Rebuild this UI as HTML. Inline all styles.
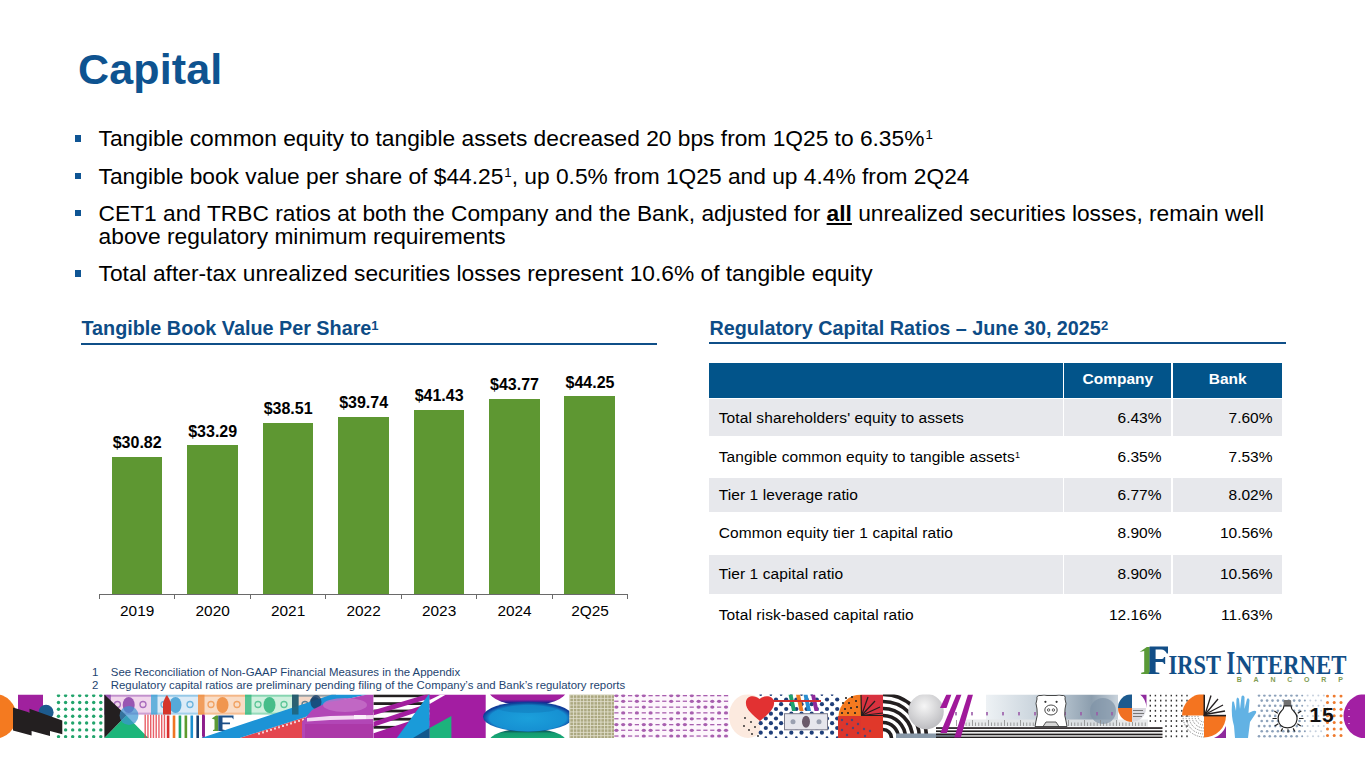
<!DOCTYPE html>
<html><head><meta charset="utf-8">
<style>
*{margin:0;padding:0;box-sizing:border-box}
html,body{width:1365px;height:768px;overflow:hidden;background:#fff}
body{position:relative;font-family:"Liberation Sans",sans-serif;color:#000}
.a{position:absolute;white-space:nowrap}
#title{left:78px;top:48.2px;font-size:43px;line-height:43px;letter-spacing:0.15px;font-weight:bold;color:#0E5390}
.bl{position:absolute;left:98.6px;font-size:22.75px;line-height:23.2px;color:#000}
.bl sup{font-size:0.58em;top:-0.55em;margin-left:1px}
.hd sup{font-size:0.66em;top:-0.4em}
.tdx sup{font-size:0.58em;top:-0.48em}
.sq{position:absolute;left:74.5px;width:6.8px;height:6.9px;background:#0F5594}
sup,.sup{font-size:0.6em;vertical-align:0;position:relative;top:-0.62em;line-height:0}
.hd{position:absolute;font-size:19.8px;line-height:20px;font-weight:bold;color:#0D4C86}
.hl{position:absolute;height:2px;background:#0F4F88}
.bar{position:absolute;background:#5E9732;width:50.8px}
.vl{position:absolute;font-size:16px;line-height:16px;font-weight:bold;width:76px;text-align:center}
.yl{position:absolute;font-size:15.4px;line-height:16px;width:76px;text-align:center;top:603px}
.tk{position:absolute;top:594px;width:1px;height:5px;background:#6A6A6A}
#tbl{position:absolute;left:709px;top:362.5px;border-collapse:separate;border-spacing:0;font-size:15.5px}
#tbl td{padding:0 10.5px;white-space:nowrap}
.th{color:#fff;font-weight:bold;font-size:15.5px;line-height:35.3px;text-align:center}
.td{font-size:15.5px}
.fn{position:absolute;white-space:nowrap;font-size:11.4px;line-height:13px;color:#1D4470}
</style></head><body>
<div id="title" class="a">Capital</div>

<div class="sq" style="top:135px"></div>
<div class="bl" style="top:127.3px">Tangible common equity to tangible assets decreased 20 bps from 1Q25 to 6.35%<sup>1</sup></div>
<div class="sq" style="top:172.5px"></div>
<div class="bl" style="top:164.8px">Tangible book value per share of $44.25<sup>1</sup>, up 0.5% from 1Q25 and up 4.4% from 2Q24</div>
<div class="sq" style="top:209.5px"></div>
<div class="bl" style="top:201.9px;white-space:nowrap">CET1 and TRBC ratios at both the Company and the Bank, adjusted for <b><u>all</u></b> unrealized securities losses, remain well<br>above regulatory minimum requirements</div>
<div class="sq" style="top:270px"></div>
<div class="bl" style="top:262.2px">Total after-tax unrealized securities losses represent 10.6% of tangible equity</div>

<div class="hd" style="left:81.5px;top:318.2px">Tangible Book Value Per Share<sup>1</sup></div>
<div class="hl" style="left:81px;top:342.5px;width:576px"></div>
<div class="hd" style="left:709.5px;top:318.2px">Regulatory Capital Ratios – June 30, 2025<sup>2</sup></div>
<div class="hl" style="left:709px;top:342px;width:576.5px"></div>

<!-- chart -->
<div class="a" style="left:99.5px;top:594px;width:528.5px;height:1px;background:#6A6A6A"></div>
<div class="tk" style="left:99.0px"></div>
<div class="tk" style="left:173.8px"></div>
<div class="tk" style="left:249.8px"></div>
<div class="tk" style="left:324.9px"></div>
<div class="tk" style="left:400.5px"></div>
<div class="tk" style="left:476.1px"></div>
<div class="tk" style="left:551.6px"></div>
<div class="tk" style="left:627.2px"></div>
<div class="bar" style="left:111.7px;top:456.6px;height:137.8px"></div>
<div class="vl" style="left:99.2px;top:435.1px">$30.82</div>
<div class="yl" style="left:99.2px">2019</div>
<div class="bar" style="left:187.1px;top:445.4px;height:149.0px"></div>
<div class="vl" style="left:174.7px;top:423.9px">$33.29</div>
<div class="yl" style="left:174.7px">2020</div>
<div class="bar" style="left:262.6px;top:422.5px;height:171.9px"></div>
<div class="vl" style="left:250.1px;top:401.0px">$38.51</div>
<div class="yl" style="left:250.1px">2021</div>
<div class="bar" style="left:338.1px;top:416.9px;height:177.5px"></div>
<div class="vl" style="left:325.6px;top:395.4px">$39.74</div>
<div class="yl" style="left:325.6px">2022</div>
<div class="bar" style="left:413.5px;top:409.6px;height:184.8px"></div>
<div class="vl" style="left:401.1px;top:388.1px">$41.43</div>
<div class="yl" style="left:401.1px">2023</div>
<div class="bar" style="left:489.0px;top:398.7px;height:195.7px"></div>
<div class="vl" style="left:476.5px;top:377.2px">$43.77</div>
<div class="yl" style="left:476.5px">2024</div>
<div class="bar" style="left:564.4px;top:396.2px;height:198.2px"></div>
<div class="vl" style="left:552.0px;top:374.7px">$44.25</div>
<div class="yl" style="left:552.0px">2Q25</div>

<!-- table -->
<div class="a" style="left:709px;top:362.5px;width:353.5px;height:35.2px;background:#02548A"></div>
<div class="a" style="left:1064.3px;top:362.5px;width:107.2px;height:35.2px;background:#02548A"></div>
<div class="a" style="left:1173.2px;top:362.5px;width:109.1px;height:35.2px;background:#02548A"></div>
<div class="a" style="left:1057.9px;width:120px;top:369.43px;font-size:15.5px;line-height:20px;color:#fff;font-weight:bold;text-align:center">Company</div>
<div class="a" style="left:1167.75px;width:120px;top:369.43px;font-size:15.5px;line-height:20px;color:#fff;font-weight:bold;text-align:center">Bank</div>
<div class="a" style="left:709px;top:398.6px;width:353.5px;height:37.6px;background:#E7E8EC"></div>
<div class="a" style="left:1064.3px;top:398.6px;width:107.2px;height:37.6px;background:#E7E8EC"></div>
<div class="a" style="left:1173.2px;top:398.6px;width:109.1px;height:37.6px;background:#E7E8EC"></div>
<div class="a" style="left:709px;top:478px;width:353.5px;height:34.0px;background:#E7E8EC"></div>
<div class="a" style="left:1064.3px;top:478px;width:107.2px;height:34.0px;background:#E7E8EC"></div>
<div class="a" style="left:1173.2px;top:478px;width:109.1px;height:34.0px;background:#E7E8EC"></div>
<div class="a" style="left:709px;top:554.5px;width:353.5px;height:39.1px;background:#E7E8EC"></div>
<div class="a" style="left:1064.3px;top:554.5px;width:107.2px;height:39.1px;background:#E7E8EC"></div>
<div class="a" style="left:1173.2px;top:554.5px;width:109.1px;height:39.1px;background:#E7E8EC"></div>
<div class="a" style="left:718.7px;letter-spacing:0.1px;top:408.03px;font-size:15.5px;line-height:20px;color:#000;">Total shareholders' equity to assets</div>
<div class="a" style="right:203.5px;top:408.03px;font-size:15.5px;line-height:20px;color:#000;text-align:right">6.43%</div>
<div class="a" style="right:92.5px;top:408.03px;font-size:15.5px;line-height:20px;color:#000;text-align:right">7.60%</div>
<div class="a tdx" style="left:718.7px;letter-spacing:0.1px;top:447.13px;font-size:15.5px;line-height:20px;color:#000;">Tangible common equity to tangible assets<sup>1</sup></div>
<div class="a" style="right:203.5px;top:447.13px;font-size:15.5px;line-height:20px;color:#000;text-align:right">6.35%</div>
<div class="a" style="right:92.5px;top:447.13px;font-size:15.5px;line-height:20px;color:#000;text-align:right">7.53%</div>
<div class="a" style="left:718.7px;letter-spacing:0.1px;top:484.53px;font-size:15.5px;line-height:20px;color:#000;">Tier 1 leverage ratio</div>
<div class="a" style="right:203.5px;top:484.53px;font-size:15.5px;line-height:20px;color:#000;text-align:right">6.77%</div>
<div class="a" style="right:92.5px;top:484.53px;font-size:15.5px;line-height:20px;color:#000;text-align:right">8.02%</div>
<div class="a" style="left:718.7px;letter-spacing:0.1px;top:523.2px;font-size:15.5px;line-height:20px;color:#000;">Common equity tier 1 capital ratio</div>
<div class="a" style="right:203.5px;top:523.2px;font-size:15.5px;line-height:20px;color:#000;text-align:right">8.90%</div>
<div class="a" style="right:92.5px;top:523.2px;font-size:15.5px;line-height:20px;color:#000;text-align:right">10.56%</div>
<div class="a" style="left:718.7px;letter-spacing:0.1px;top:564.3px;font-size:15.5px;line-height:20px;color:#000;">Tier 1 capital ratio</div>
<div class="a" style="right:203.5px;top:564.3px;font-size:15.5px;line-height:20px;color:#000;text-align:right">8.90%</div>
<div class="a" style="right:92.5px;top:564.3px;font-size:15.5px;line-height:20px;color:#000;text-align:right">10.56%</div>
<div class="a" style="left:718.7px;letter-spacing:0.1px;top:605.0px;font-size:15.5px;line-height:20px;color:#000;">Total risk-based capital ratio</div>
<div class="a" style="right:203.5px;top:605.0px;font-size:15.5px;line-height:20px;color:#000;text-align:right">12.16%</div>
<div class="a" style="right:92.5px;top:605.0px;font-size:15.5px;line-height:20px;color:#000;text-align:right">11.63%</div>

<!-- footnotes -->
<div class="fn" style="left:92px;top:666px">1<span style="position:absolute;left:18.8px">See Reconciliation of Non-GAAP Financial Measures in the Appendix</span></div>
<div class="fn" style="left:92px;top:679.2px">2<span style="position:absolute;left:18.8px">Regulatory capital ratios are preliminary pending filing of the Company’s and Bank’s regulatory reports</span></div>

<svg class="a" style="left:0;top:690px" width="1365" height="52" viewBox="0 690 1365 52"><defs><clipPath id="cp"><rect x="0" y="694.4" width="1365" height="43.7"/></clipPath></defs><g clip-path="url(#cp)"><circle cx="-6" cy="716.3" r="22.5" fill="#F47A20"/><rect x="18" y="694.5" width="25" height="18" fill="#A0219E"/><circle cx="46" cy="712.4" r="7.6" fill="#1D5B8E"/><circle cx="58.5" cy="695.6" r="1.7" fill="#22A46C"/><circle cx="58.5" cy="702.5" r="1.7" fill="#22A46C"/><circle cx="58.5" cy="709.3" r="1.7" fill="#22A46C"/><circle cx="58.5" cy="716.2" r="1.7" fill="#22A46C"/><circle cx="58.5" cy="723" r="1.7" fill="#22A46C"/><circle cx="58.5" cy="729.9" r="1.7" fill="#22A46C"/><circle cx="58.5" cy="736.6" r="1.7" fill="#22A46C"/><circle cx="65.6" cy="695.6" r="1.7" fill="#22A46C"/><circle cx="65.6" cy="702.5" r="1.7" fill="#22A46C"/><circle cx="65.6" cy="709.3" r="1.7" fill="#22A46C"/><circle cx="65.6" cy="716.2" r="1.7" fill="#22A46C"/><circle cx="65.6" cy="723" r="1.7" fill="#22A46C"/><circle cx="65.6" cy="729.9" r="1.7" fill="#22A46C"/><circle cx="65.6" cy="736.6" r="1.7" fill="#22A46C"/><circle cx="72.7" cy="695.6" r="1.7" fill="#22A46C"/><circle cx="72.7" cy="702.5" r="1.7" fill="#22A46C"/><circle cx="72.7" cy="709.3" r="1.7" fill="#22A46C"/><circle cx="72.7" cy="716.2" r="1.7" fill="#22A46C"/><circle cx="72.7" cy="723" r="1.7" fill="#22A46C"/><circle cx="72.7" cy="729.9" r="1.7" fill="#22A46C"/><circle cx="72.7" cy="736.6" r="1.7" fill="#22A46C"/><circle cx="79.7" cy="695.6" r="1.7" fill="#22A46C"/><circle cx="79.7" cy="702.5" r="1.7" fill="#22A46C"/><circle cx="79.7" cy="709.3" r="1.7" fill="#22A46C"/><circle cx="79.7" cy="716.2" r="1.7" fill="#22A46C"/><circle cx="79.7" cy="723" r="1.7" fill="#22A46C"/><circle cx="79.7" cy="729.9" r="1.7" fill="#22A46C"/><circle cx="79.7" cy="736.6" r="1.7" fill="#22A46C"/><circle cx="86.6" cy="695.6" r="1.7" fill="#22A46C"/><circle cx="86.6" cy="702.5" r="1.7" fill="#22A46C"/><circle cx="86.6" cy="709.3" r="1.7" fill="#22A46C"/><circle cx="86.6" cy="716.2" r="1.7" fill="#22A46C"/><circle cx="86.6" cy="723" r="1.7" fill="#22A46C"/><circle cx="86.6" cy="729.9" r="1.7" fill="#22A46C"/><circle cx="86.6" cy="736.6" r="1.7" fill="#22A46C"/><circle cx="93.7" cy="695.6" r="1.7" fill="#22A46C"/><circle cx="93.7" cy="702.5" r="1.7" fill="#22A46C"/><circle cx="93.7" cy="709.3" r="1.7" fill="#22A46C"/><circle cx="93.7" cy="716.2" r="1.7" fill="#22A46C"/><circle cx="93.7" cy="723" r="1.7" fill="#22A46C"/><circle cx="93.7" cy="729.9" r="1.7" fill="#22A46C"/><circle cx="93.7" cy="736.6" r="1.7" fill="#22A46C"/><circle cx="100.8" cy="695.6" r="1.7" fill="#22A46C"/><circle cx="100.8" cy="702.5" r="1.7" fill="#22A46C"/><circle cx="100.8" cy="709.3" r="1.7" fill="#22A46C"/><circle cx="100.8" cy="716.2" r="1.7" fill="#22A46C"/><circle cx="100.8" cy="723" r="1.7" fill="#22A46C"/><circle cx="100.8" cy="729.9" r="1.7" fill="#22A46C"/><circle cx="100.8" cy="736.6" r="1.7" fill="#22A46C"/><polygon points="13,707.4 29.5,712.5 29.5,708.8 62.3,720.5 62.3,734.2 50,731 50,736 31.6,731 31.6,735.5 13,730.5" fill="#231F20"/><rect x="104.4" y="694.5" width="46.599999999999994" height="20.100000000000023" fill="#F1D6EC"/><rect x="104.4" y="694.5" width="46.599999999999994" height="2.2" fill="#8A3FA8" opacity="0.45"/><rect x="104.4" y="712.6" width="46.599999999999994" height="2" fill="#8A3FA8" opacity="0.35"/><rect x="104.4" y="694.5" width="6.5" height="20.100000000000023" fill="#8A3FA8" opacity="0.75"/><ellipse cx="128.7" cy="705" rx="6" ry="8" fill="#8A3FA8" opacity="0.85"/><circle cx="117.4" cy="704.5" r="3" fill="none" stroke="#8A3FA8" stroke-width="1.3" opacity="0.7"/><circle cx="143" cy="704.5" r="3" fill="none" stroke="#8A3FA8" stroke-width="1.3" opacity="0.7"/><rect x="151" y="694.5" width="47" height="20.100000000000023" fill="#DCEBF7"/><rect x="151" y="694.5" width="47" height="2.2" fill="#3E9ED3" opacity="0.45"/><rect x="151" y="712.6" width="47" height="2" fill="#3E9ED3" opacity="0.35"/><rect x="151" y="694.5" width="6.5" height="20.100000000000023" fill="#3E9ED3" opacity="0.75"/><ellipse cx="175.5" cy="705" rx="6" ry="8" fill="#3E9ED3" opacity="0.85"/><circle cx="164" cy="704.5" r="3" fill="none" stroke="#3E9ED3" stroke-width="1.3" opacity="0.7"/><circle cx="190" cy="704.5" r="3" fill="none" stroke="#3E9ED3" stroke-width="1.3" opacity="0.7"/><rect x="198" y="694.5" width="47" height="20.100000000000023" fill="#F9DCC6"/><rect x="198" y="694.5" width="47" height="2.2" fill="#EE8A3A" opacity="0.45"/><rect x="198" y="712.6" width="47" height="2" fill="#EE8A3A" opacity="0.35"/><rect x="198" y="694.5" width="6.5" height="20.100000000000023" fill="#EE8A3A" opacity="0.75"/><ellipse cx="222.5" cy="705" rx="6" ry="8" fill="#EE8A3A" opacity="0.85"/><circle cx="211" cy="704.5" r="3" fill="none" stroke="#EE8A3A" stroke-width="1.3" opacity="0.7"/><circle cx="237" cy="704.5" r="3" fill="none" stroke="#EE8A3A" stroke-width="1.3" opacity="0.7"/><rect x="245" y="694.5" width="47" height="20.100000000000023" fill="#CFF0DE"/><rect x="245" y="694.5" width="47" height="2.2" fill="#2DB47A" opacity="0.45"/><rect x="245" y="712.6" width="47" height="2" fill="#2DB47A" opacity="0.35"/><rect x="245" y="694.5" width="6.5" height="20.100000000000023" fill="#2DB47A" opacity="0.75"/><ellipse cx="269.5" cy="705" rx="6" ry="8" fill="#2DB47A" opacity="0.85"/><circle cx="258" cy="704.5" r="3" fill="none" stroke="#2DB47A" stroke-width="1.3" opacity="0.7"/><circle cx="284" cy="704.5" r="3" fill="none" stroke="#2DB47A" stroke-width="1.3" opacity="0.7"/><rect x="292" y="694.5" width="44" height="20.100000000000023" fill="#F4D8C8"/><rect x="292" y="694.5" width="44" height="2.2" fill="#1F5A7A" opacity="0.45"/><rect x="292" y="712.6" width="44" height="2" fill="#1F5A7A" opacity="0.35"/><rect x="292" y="694.5" width="6.5" height="20.100000000000023" fill="#1F5A7A" opacity="0.75"/><ellipse cx="315.0" cy="705" rx="6" ry="8" fill="#1F5A7A" opacity="0.85"/><circle cx="305" cy="704.5" r="3" fill="none" stroke="#1F5A7A" stroke-width="1.3" opacity="0.7"/><circle cx="328" cy="704.5" r="3" fill="none" stroke="#1F5A7A" stroke-width="1.3" opacity="0.7"/><path d="M163,714.6 L163,703 Q165,697 167,695 Q169,698 171,703 L171,714.6 Z" fill="#D5362A"/><polygon points="104.4,694.5 104.4,738.0 126.4,715.5" fill="#231F20"/><polygon points="104.4,738.0 126.4,715.5 148.4,738.0" fill="#1CB57A"/><circle cx="129" cy="715.5" r="9.4" fill="#3C96D2" opacity="0.7"/><rect x="144.5" y="714.6" width="1.4" height="23.399999999999977" fill="#E4434B" opacity="0.85"/><rect x="147.25" y="714.6" width="1.4" height="23.399999999999977" fill="#E4434B" opacity="0.85"/><rect x="150.0" y="714.6" width="1.4" height="23.399999999999977" fill="#E4434B" opacity="0.85"/><rect x="152.75" y="714.6" width="1.4" height="23.399999999999977" fill="#E4434B" opacity="0.85"/><rect x="155.5" y="714.6" width="1.4" height="23.399999999999977" fill="#E4434B" opacity="0.85"/><rect x="158.25" y="714.6" width="1.4" height="23.399999999999977" fill="#E4434B" opacity="0.85"/><rect x="161.0" y="714.6" width="1.4" height="23.399999999999977" fill="#E4434B" opacity="0.85"/><rect x="163.75" y="714.6" width="1.4" height="23.399999999999977" fill="#E4434B" opacity="0.85"/><rect x="166.80" y="715.5" width="2.6" height="22.5" fill="#D9302F"/><rect x="172.72" y="715.5" width="2.6" height="22.5" fill="#EE7623"/><rect x="178.64" y="715.5" width="2.6" height="22.5" fill="#1FA463"/><rect x="184.56" y="715.5" width="2.6" height="22.5" fill="#5E9B2E"/><rect x="190.48" y="715.5" width="2.6" height="22.5" fill="#1B8FCF"/><rect x="196.40" y="715.5" width="2.6" height="22.5" fill="#183D6E"/><rect x="202.32" y="715.5" width="2.6" height="22.5" fill="#8E1E8C"/><path d="M211.7,718.5 L216,715.5 L218.3,715.5 L218.3,731 L213,731 L213,730 L214.5,729.5 L214.5,719.5 Z" fill="#5C9A36"/><path d="M218.3,715.5 L233.5,715.5 L233.5,719.5 L232,717.5 L222.5,717.5 L222.5,722.5 L230,722.5 L230,724.3 L222.5,724.3 L222.5,729.5 L225,730 L225,731 L218.3,731 Z" fill="#1B4F87"/><polygon points="239.6,738.0 305.5,717 305.5,738.0" fill="#E4464F"/><rect x="258.0" y="732.6" width="2" height="2" fill="#F8D0D4"/><rect x="262.0" y="731.4" width="2" height="2" fill="#F8D0D4"/><rect x="266.0" y="730.1" width="2" height="2" fill="#F8D0D4"/><rect x="270.0" y="728.8" width="2" height="2" fill="#F8D0D4"/><rect x="274.0" y="727.5" width="2" height="2" fill="#F8D0D4"/><rect x="278.0" y="726.3" width="2" height="2" fill="#F8D0D4"/><rect x="282.0" y="725.0" width="2" height="2" fill="#F8D0D4"/><rect x="286.0" y="723.7" width="2" height="2" fill="#F8D0D4"/><rect x="290.0" y="722.4" width="2" height="2" fill="#F8D0D4"/><rect x="294.0" y="721.2" width="2" height="2" fill="#F8D0D4"/><rect x="298.0" y="719.9" width="2" height="2" fill="#F8D0D4"/><rect x="302.0" y="718.6" width="2" height="2" fill="#F8D0D4"/><polygon points="201.3,738.0 332,694.5 367,694.5 345,699.5 305.5,717 239.6,738.0" fill="#1C93D6"/><polygon points="292,714.6 318,706 318,694.5 292,694.5" fill="#fff" opacity="0"/><rect x="292" y="694.5" width="6.5" height="20" fill="#1F5A6A" opacity="0.75"/><ellipse cx="316" cy="702" rx="5.5" ry="7" fill="#163F6A" opacity="0.8"/><rect x="202" y="714.6" width="2.6" height="21.4" fill="#8E1E8C"/><polygon points="302,738.0 302,722 312,710 328,702 345,699.5 367,694.5 373.6,694.5 373.6,738.0" fill="#B246B6"/><ellipse cx="345" cy="705" rx="22" ry="7" fill="#C46FC8" opacity="0.8"/><polygon points="307,718 330,716 373.6,715 373.6,719 330,720 307,721.5" fill="#F3D8F2"/><rect x="354" y="715" width="12" height="4" fill="#FBEFFB"/><rect x="305" y="724" width="68" height="14" fill="#A8309F" opacity="0.6"/><rect x="373.6" y="694.5" width="56" height="43.5" fill="#ffffff"/><rect x="373.6" y="694.4" width="56" height="2.8" fill="#231F20"/><rect x="373.6" y="702.2" width="56" height="2.8" fill="#231F20"/><rect x="373.6" y="709.6" width="56" height="2.8" fill="#231F20"/><rect x="373.6" y="717.8" width="56" height="2.8" fill="#231F20"/><rect x="373.6" y="725.9" width="56" height="2.8" fill="#231F20"/><polygon points="373.6,710.3 426,694.4 429.6,694.4 429.6,698.4 373.6,715.3" fill="#A21D9E"/><polygon points="373.6,721.8 429.6,703 429.6,708 373.6,726.8" fill="#A21D9E"/><polygon points="373.6,733.3 429.6,714.5 429.6,738.0 373.6,738.0" fill="#A21D9E"/><polygon points="396.8,738.0 428.6,694.5 429.6,694.5 429.6,738.0" fill="#1A9BD9"/><polygon points="413,738.0 429.6,728 429.6,738.0" fill="#13578C"/><rect x="429.6" y="694.5" width="56.1" height="43.5" fill="#A31DA2"/><polygon points="429.6,700 441,694.5 446,694.5 429.6,704" fill="#ffffff"/><polygon points="429.6,728 451.4,716 451.4,738.0 429.6,738.0" fill="#1DB37C"/><linearGradient id="pg" gradientUnits="userSpaceOnUse" x1="0" x2="0" y1="694.4" y2="705.5"><stop offset="0.45" stop-color="#A3209E"/><stop offset="0.75" stop-color="#1A1E8E"/></linearGradient><linearGradient id="gg" gradientUnits="userSpaceOnUse" x1="0" x2="0" y1="728.5" y2="738"><stop offset="0.2" stop-color="#0A4A55"/><stop offset="0.5" stop-color="#139A70"/><stop offset="1" stop-color="#18A874"/></linearGradient><ellipse cx="527.6" cy="691" rx="38.5" ry="14.5" fill="url(#pg)"/><ellipse cx="527.6" cy="741.5" rx="38.5" ry="13" fill="url(#gg)"/><radialGradient id="eg" cx="0.5" cy="0.55" r="0.5"><stop offset="0" stop-color="#1BA0DB"/><stop offset="0.85" stop-color="#1690D2"/><stop offset="1" stop-color="#103E9A"/></radialGradient><ellipse cx="528" cy="716.7" rx="45" ry="15" fill="url(#eg)"/><ellipse cx="528" cy="708" rx="30" ry="5" fill="#0F6DB0" opacity="0.35"/><rect x="569.5" y="694.5" width="44.5" height="43.5" fill="#ABA880"/><rect x="569.50" y="694.5" width="0.8" height="43.5" fill="#E4E2D0"/><rect x="572.95" y="694.5" width="0.8" height="43.5" fill="#E4E2D0"/><rect x="576.40" y="694.5" width="0.8" height="43.5" fill="#E4E2D0"/><rect x="579.85" y="694.5" width="0.8" height="43.5" fill="#E4E2D0"/><rect x="583.30" y="694.5" width="0.8" height="43.5" fill="#E4E2D0"/><rect x="586.75" y="694.5" width="0.8" height="43.5" fill="#E4E2D0"/><rect x="590.20" y="694.5" width="0.8" height="43.5" fill="#E4E2D0"/><rect x="593.65" y="694.5" width="0.8" height="43.5" fill="#E4E2D0"/><rect x="597.10" y="694.5" width="0.8" height="43.5" fill="#E4E2D0"/><rect x="600.55" y="694.5" width="0.8" height="43.5" fill="#E4E2D0"/><rect x="604.00" y="694.5" width="0.8" height="43.5" fill="#E4E2D0"/><rect x="607.45" y="694.5" width="0.8" height="43.5" fill="#E4E2D0"/><rect x="610.90" y="694.5" width="0.8" height="43.5" fill="#E4E2D0"/><rect x="569.5" y="694.50" width="44.5" height="0.8" fill="#E4E2D0"/><rect x="569.5" y="697.90" width="44.5" height="0.8" fill="#E4E2D0"/><rect x="569.5" y="701.30" width="44.5" height="0.8" fill="#E4E2D0"/><rect x="569.5" y="704.70" width="44.5" height="0.8" fill="#E4E2D0"/><rect x="569.5" y="708.10" width="44.5" height="0.8" fill="#E4E2D0"/><rect x="569.5" y="711.50" width="44.5" height="0.8" fill="#E4E2D0"/><rect x="569.5" y="714.90" width="44.5" height="0.8" fill="#E4E2D0"/><rect x="569.5" y="718.30" width="44.5" height="0.8" fill="#E4E2D0"/><rect x="569.5" y="721.70" width="44.5" height="0.8" fill="#E4E2D0"/><rect x="569.5" y="725.10" width="44.5" height="0.8" fill="#E4E2D0"/><rect x="569.5" y="728.50" width="44.5" height="0.8" fill="#E4E2D0"/><rect x="569.5" y="731.90" width="44.5" height="0.8" fill="#E4E2D0"/><rect x="569.5" y="735.30" width="44.5" height="0.8" fill="#E4E2D0"/><rect x="614" y="694.4" width="115" height="43.6" fill="#FDF6FC"/><ellipse cx="616.4" cy="695.6" rx="2.1" ry="1.6" fill="#9E4FA6" opacity="0.9"/><rect x="614.3" y="700.6" width="4.2" height="1.3" fill="#9E4FA6" opacity="0.9"/><ellipse cx="616.4" cy="707.1" rx="2.1" ry="1.6" fill="#9E4FA6" opacity="0.9"/><rect x="614.3" y="712.2" width="4.2" height="1.3" fill="#9E4FA6" opacity="0.9"/><rect x="614.3" y="718.1" width="4.2" height="1.3" fill="#9E4FA6" opacity="0.9"/><ellipse cx="616.4" cy="724.6" rx="2.1" ry="1.6" fill="#9E4FA6" opacity="0.9"/><ellipse cx="616.4" cy="730.3" rx="2.1" ry="1.6" fill="#9E4FA6" opacity="0.9"/><rect x="614.3" y="735.4" width="4.2" height="1.3" fill="#9E4FA6" opacity="0.9"/><ellipse cx="623.2" cy="695.6" rx="2.1" ry="1.6" fill="#9E4FA6" opacity="0.9"/><ellipse cx="623.2" cy="701.3" rx="2.1" ry="1.6" fill="#9E4FA6" opacity="0.9"/><rect x="621.1" y="706.5" width="4.2" height="1.3" fill="#9E4FA6" opacity="0.9"/><ellipse cx="623.2" cy="712.9" rx="2.1" ry="1.6" fill="#9E4FA6" opacity="0.9"/><rect x="621.1" y="718.1" width="4.2" height="1.3" fill="#9E4FA6" opacity="0.9"/><ellipse cx="623.2" cy="724.6" rx="2.1" ry="1.6" fill="#9E4FA6" opacity="0.9"/><rect x="621.1" y="729.6" width="4.2" height="1.3" fill="#9E4FA6" opacity="0.9"/><ellipse cx="623.2" cy="736.0" rx="2.1" ry="1.6" fill="#9E4FA6" opacity="0.9"/><rect x="628.0" y="695.0" width="4.2" height="1.3" fill="#9E4FA6" opacity="0.9"/><rect x="628.0" y="700.6" width="4.2" height="1.3" fill="#9E4FA6" opacity="0.9"/><rect x="628.0" y="706.5" width="4.2" height="1.3" fill="#9E4FA6" opacity="0.9"/><rect x="628.0" y="712.2" width="4.2" height="1.3" fill="#9E4FA6" opacity="0.9"/><rect x="628.0" y="718.1" width="4.2" height="1.3" fill="#9E4FA6" opacity="0.9"/><ellipse cx="630.1" cy="724.6" rx="2.1" ry="1.6" fill="#9E4FA6" opacity="0.9"/><rect x="628.0" y="729.6" width="4.2" height="1.3" fill="#9E4FA6" opacity="0.9"/><rect x="628.0" y="735.4" width="4.2" height="1.3" fill="#9E4FA6" opacity="0.9"/><ellipse cx="636.9" cy="695.6" rx="2.1" ry="1.6" fill="#9E4FA6" opacity="0.9"/><ellipse cx="636.9" cy="701.3" rx="2.1" ry="1.6" fill="#9E4FA6" opacity="0.9"/><rect x="634.8" y="706.5" width="4.2" height="1.3" fill="#9E4FA6" opacity="0.9"/><ellipse cx="636.9" cy="712.9" rx="2.1" ry="1.6" fill="#9E4FA6" opacity="0.9"/><rect x="634.8" y="718.1" width="4.2" height="1.3" fill="#9E4FA6" opacity="0.9"/><rect x="634.8" y="724.0" width="4.2" height="1.3" fill="#9E4FA6" opacity="0.9"/><rect x="634.8" y="729.6" width="4.2" height="1.3" fill="#9E4FA6" opacity="0.9"/><rect x="634.8" y="735.4" width="4.2" height="1.3" fill="#9E4FA6" opacity="0.9"/><ellipse cx="643.8" cy="695.6" rx="2.1" ry="1.6" fill="#9E4FA6" opacity="0.9"/><rect x="641.7" y="700.6" width="4.2" height="1.3" fill="#9E4FA6" opacity="0.9"/><ellipse cx="643.8" cy="707.1" rx="2.1" ry="1.6" fill="#9E4FA6" opacity="0.9"/><rect x="641.7" y="712.2" width="4.2" height="1.3" fill="#9E4FA6" opacity="0.9"/><rect x="641.7" y="718.1" width="4.2" height="1.3" fill="#9E4FA6" opacity="0.9"/><ellipse cx="643.8" cy="724.6" rx="2.1" ry="1.6" fill="#9E4FA6" opacity="0.9"/><ellipse cx="643.8" cy="730.3" rx="2.1" ry="1.6" fill="#9E4FA6" opacity="0.9"/><ellipse cx="643.8" cy="736.0" rx="2.1" ry="1.6" fill="#9E4FA6" opacity="0.9"/><rect x="648.5" y="695.0" width="4.2" height="1.3" fill="#9E4FA6" opacity="0.9"/><ellipse cx="650.6" cy="701.3" rx="2.1" ry="1.6" fill="#9E4FA6" opacity="0.9"/><rect x="648.5" y="706.5" width="4.2" height="1.3" fill="#9E4FA6" opacity="0.9"/><ellipse cx="650.6" cy="712.9" rx="2.1" ry="1.6" fill="#9E4FA6" opacity="0.9"/><rect x="648.5" y="718.1" width="4.2" height="1.3" fill="#9E4FA6" opacity="0.9"/><ellipse cx="650.6" cy="724.6" rx="2.1" ry="1.6" fill="#9E4FA6" opacity="0.9"/><ellipse cx="650.6" cy="730.3" rx="2.1" ry="1.6" fill="#9E4FA6" opacity="0.9"/><rect x="648.5" y="735.4" width="4.2" height="1.3" fill="#9E4FA6" opacity="0.9"/><rect x="655.4" y="695.0" width="4.2" height="1.3" fill="#9E4FA6" opacity="0.9"/><rect x="655.4" y="700.6" width="4.2" height="1.3" fill="#9E4FA6" opacity="0.9"/><rect x="655.4" y="706.5" width="4.2" height="1.3" fill="#9E4FA6" opacity="0.9"/><rect x="655.4" y="712.2" width="4.2" height="1.3" fill="#9E4FA6" opacity="0.9"/><rect x="655.4" y="718.1" width="4.2" height="1.3" fill="#9E4FA6" opacity="0.9"/><rect x="655.4" y="724.0" width="4.2" height="1.3" fill="#9E4FA6" opacity="0.9"/><rect x="655.4" y="729.6" width="4.2" height="1.3" fill="#9E4FA6" opacity="0.9"/><ellipse cx="657.5" cy="736.0" rx="2.1" ry="1.6" fill="#9E4FA6" opacity="0.9"/><rect x="662.2" y="695.0" width="4.2" height="1.3" fill="#9E4FA6" opacity="0.9"/><rect x="662.2" y="700.6" width="4.2" height="1.3" fill="#9E4FA6" opacity="0.9"/><rect x="662.2" y="706.5" width="4.2" height="1.3" fill="#9E4FA6" opacity="0.9"/><rect x="662.2" y="712.2" width="4.2" height="1.3" fill="#9E4FA6" opacity="0.9"/><rect x="662.2" y="718.1" width="4.2" height="1.3" fill="#9E4FA6" opacity="0.9"/><ellipse cx="664.4" cy="724.6" rx="2.1" ry="1.6" fill="#9E4FA6" opacity="0.9"/><rect x="662.2" y="729.6" width="4.2" height="1.3" fill="#9E4FA6" opacity="0.9"/><rect x="662.2" y="735.4" width="4.2" height="1.3" fill="#9E4FA6" opacity="0.9"/><ellipse cx="671.2" cy="695.6" rx="2.1" ry="1.6" fill="#9E4FA6" opacity="0.9"/><ellipse cx="671.2" cy="701.3" rx="2.1" ry="1.6" fill="#9E4FA6" opacity="0.9"/><rect x="669.1" y="706.5" width="4.2" height="1.3" fill="#9E4FA6" opacity="0.9"/><rect x="669.1" y="712.2" width="4.2" height="1.3" fill="#9E4FA6" opacity="0.9"/><ellipse cx="671.2" cy="718.8" rx="2.1" ry="1.6" fill="#9E4FA6" opacity="0.9"/><rect x="669.1" y="724.0" width="4.2" height="1.3" fill="#9E4FA6" opacity="0.9"/><ellipse cx="671.2" cy="730.3" rx="2.1" ry="1.6" fill="#9E4FA6" opacity="0.9"/><ellipse cx="671.2" cy="736.0" rx="2.1" ry="1.6" fill="#9E4FA6" opacity="0.9"/><ellipse cx="678.0" cy="695.6" rx="2.1" ry="1.6" fill="#9E4FA6" opacity="0.9"/><rect x="675.9" y="700.6" width="4.2" height="1.3" fill="#9E4FA6" opacity="0.9"/><rect x="675.9" y="706.5" width="4.2" height="1.3" fill="#9E4FA6" opacity="0.9"/><ellipse cx="678.0" cy="712.9" rx="2.1" ry="1.6" fill="#9E4FA6" opacity="0.9"/><rect x="675.9" y="718.1" width="4.2" height="1.3" fill="#9E4FA6" opacity="0.9"/><ellipse cx="678.0" cy="724.6" rx="2.1" ry="1.6" fill="#9E4FA6" opacity="0.9"/><rect x="675.9" y="729.6" width="4.2" height="1.3" fill="#9E4FA6" opacity="0.9"/><ellipse cx="678.0" cy="736.0" rx="2.1" ry="1.6" fill="#9E4FA6" opacity="0.9"/><rect x="682.8" y="695.0" width="4.2" height="1.3" fill="#9E4FA6" opacity="0.9"/><rect x="682.8" y="700.6" width="4.2" height="1.3" fill="#9E4FA6" opacity="0.9"/><rect x="682.8" y="706.5" width="4.2" height="1.3" fill="#9E4FA6" opacity="0.9"/><rect x="682.8" y="712.2" width="4.2" height="1.3" fill="#9E4FA6" opacity="0.9"/><ellipse cx="684.9" cy="718.8" rx="2.1" ry="1.6" fill="#9E4FA6" opacity="0.9"/><ellipse cx="684.9" cy="724.6" rx="2.1" ry="1.6" fill="#9E4FA6" opacity="0.9"/><rect x="682.8" y="729.6" width="4.2" height="1.3" fill="#9E4FA6" opacity="0.9"/><ellipse cx="684.9" cy="736.0" rx="2.1" ry="1.6" fill="#9E4FA6" opacity="0.9"/><ellipse cx="691.8" cy="695.6" rx="2.1" ry="1.6" fill="#9E4FA6" opacity="0.9"/><ellipse cx="691.8" cy="701.3" rx="2.1" ry="1.6" fill="#9E4FA6" opacity="0.9"/><rect x="689.6" y="706.5" width="4.2" height="1.3" fill="#9E4FA6" opacity="0.9"/><ellipse cx="691.8" cy="712.9" rx="2.1" ry="1.6" fill="#9E4FA6" opacity="0.9"/><ellipse cx="691.8" cy="718.8" rx="2.1" ry="1.6" fill="#9E4FA6" opacity="0.9"/><rect x="689.6" y="724.0" width="4.2" height="1.3" fill="#9E4FA6" opacity="0.9"/><ellipse cx="691.8" cy="730.3" rx="2.1" ry="1.6" fill="#9E4FA6" opacity="0.9"/><rect x="689.6" y="735.4" width="4.2" height="1.3" fill="#9E4FA6" opacity="0.9"/><rect x="696.5" y="695.0" width="4.2" height="1.3" fill="#9E4FA6" opacity="0.9"/><ellipse cx="698.6" cy="701.3" rx="2.1" ry="1.6" fill="#9E4FA6" opacity="0.9"/><ellipse cx="698.6" cy="707.1" rx="2.1" ry="1.6" fill="#9E4FA6" opacity="0.9"/><rect x="696.5" y="712.2" width="4.2" height="1.3" fill="#9E4FA6" opacity="0.9"/><rect x="696.5" y="718.1" width="4.2" height="1.3" fill="#9E4FA6" opacity="0.9"/><rect x="696.5" y="724.0" width="4.2" height="1.3" fill="#9E4FA6" opacity="0.9"/><rect x="696.5" y="729.6" width="4.2" height="1.3" fill="#9E4FA6" opacity="0.9"/><rect x="696.5" y="735.4" width="4.2" height="1.3" fill="#9E4FA6" opacity="0.9"/><rect x="703.3" y="695.0" width="4.2" height="1.3" fill="#9E4FA6" opacity="0.9"/><rect x="703.3" y="700.6" width="4.2" height="1.3" fill="#9E4FA6" opacity="0.9"/><ellipse cx="705.4" cy="707.1" rx="2.1" ry="1.6" fill="#9E4FA6" opacity="0.9"/><rect x="703.3" y="712.2" width="4.2" height="1.3" fill="#9E4FA6" opacity="0.9"/><ellipse cx="705.4" cy="718.8" rx="2.1" ry="1.6" fill="#9E4FA6" opacity="0.9"/><ellipse cx="705.4" cy="724.6" rx="2.1" ry="1.6" fill="#9E4FA6" opacity="0.9"/><rect x="703.3" y="729.6" width="4.2" height="1.3" fill="#9E4FA6" opacity="0.9"/><rect x="703.3" y="735.4" width="4.2" height="1.3" fill="#9E4FA6" opacity="0.9"/><rect x="710.2" y="695.0" width="4.2" height="1.3" fill="#9E4FA6" opacity="0.9"/><ellipse cx="712.3" cy="701.3" rx="2.1" ry="1.6" fill="#9E4FA6" opacity="0.9"/><ellipse cx="712.3" cy="707.1" rx="2.1" ry="1.6" fill="#9E4FA6" opacity="0.9"/><rect x="710.2" y="712.2" width="4.2" height="1.3" fill="#9E4FA6" opacity="0.9"/><ellipse cx="712.3" cy="718.8" rx="2.1" ry="1.6" fill="#9E4FA6" opacity="0.9"/><rect x="710.2" y="724.0" width="4.2" height="1.3" fill="#9E4FA6" opacity="0.9"/><rect x="710.2" y="729.6" width="4.2" height="1.3" fill="#9E4FA6" opacity="0.9"/><ellipse cx="712.3" cy="736.0" rx="2.1" ry="1.6" fill="#9E4FA6" opacity="0.9"/><rect x="717.0" y="695.0" width="4.2" height="1.3" fill="#9E4FA6" opacity="0.9"/><ellipse cx="719.1" cy="701.3" rx="2.1" ry="1.6" fill="#9E4FA6" opacity="0.9"/><rect x="717.0" y="706.5" width="4.2" height="1.3" fill="#9E4FA6" opacity="0.9"/><ellipse cx="719.1" cy="712.9" rx="2.1" ry="1.6" fill="#9E4FA6" opacity="0.9"/><rect x="717.0" y="718.1" width="4.2" height="1.3" fill="#9E4FA6" opacity="0.9"/><rect x="717.0" y="724.0" width="4.2" height="1.3" fill="#9E4FA6" opacity="0.9"/><ellipse cx="719.1" cy="730.3" rx="2.1" ry="1.6" fill="#9E4FA6" opacity="0.9"/><ellipse cx="719.1" cy="736.0" rx="2.1" ry="1.6" fill="#9E4FA6" opacity="0.9"/><rect x="723.9" y="695.0" width="4.2" height="1.3" fill="#9E4FA6" opacity="0.9"/><rect x="723.9" y="700.6" width="4.2" height="1.3" fill="#9E4FA6" opacity="0.9"/><ellipse cx="726.0" cy="707.1" rx="2.1" ry="1.6" fill="#9E4FA6" opacity="0.9"/><ellipse cx="726.0" cy="712.9" rx="2.1" ry="1.6" fill="#9E4FA6" opacity="0.9"/><rect x="723.9" y="718.1" width="4.2" height="1.3" fill="#9E4FA6" opacity="0.9"/><ellipse cx="726.0" cy="724.6" rx="2.1" ry="1.6" fill="#9E4FA6" opacity="0.9"/><ellipse cx="726.0" cy="730.3" rx="2.1" ry="1.6" fill="#9E4FA6" opacity="0.9"/><ellipse cx="726.0" cy="736.0" rx="2.1" ry="1.6" fill="#9E4FA6" opacity="0.9"/><ellipse cx="748" cy="716" rx="19" ry="22" fill="#FCEADF"/><rect x="760" y="694.5" width="80" height="43.5" fill="#fff"/><circle cx="745" cy="718" r="0.9" fill="#222"/><circle cx="751" cy="722" r="0.9" fill="#222"/><circle cx="749" cy="730" r="0.9" fill="#222"/><circle cx="755" cy="727" r="0.9" fill="#222"/><circle cx="744" cy="726" r="0.9" fill="#222"/><circle cx="752" cy="734" r="0.9" fill="#222"/><circle cx="758" cy="736" r="0.9" fill="#222"/><circle cx="760.7" cy="694.7" r="1.3" fill="#1F3F7A"/><circle cx="770.9" cy="694.7" r="1.3" fill="#1F3F7A"/><circle cx="781.1" cy="694.7" r="1.3" fill="#1F3F7A"/><circle cx="791.3" cy="694.7" r="1.3" fill="#1F3F7A"/><circle cx="801.5" cy="694.7" r="1.3" fill="#1F3F7A"/><circle cx="811.7" cy="694.7" r="1.3" fill="#1F3F7A"/><circle cx="821.9" cy="694.7" r="1.3" fill="#1F3F7A"/><circle cx="832.1" cy="694.7" r="1.3" fill="#1F3F7A"/><circle cx="765.8" cy="699.5" r="2.1" fill="#1F3F7A"/><circle cx="776.0" cy="699.5" r="2.1" fill="#1F3F7A"/><circle cx="786.2" cy="699.5" r="2.1" fill="#1F3F7A"/><circle cx="796.4" cy="699.5" r="2.1" fill="#1F3F7A"/><circle cx="806.6" cy="699.5" r="2.1" fill="#1F3F7A"/><circle cx="816.8" cy="699.5" r="2.1" fill="#1F3F7A"/><circle cx="827.0" cy="699.5" r="2.1" fill="#1F3F7A"/><circle cx="837.2" cy="699.5" r="2.1" fill="#1F3F7A"/><circle cx="760.7" cy="704.2" r="2.1" fill="#1F3F7A"/><circle cx="770.9" cy="704.2" r="2.1" fill="#1F3F7A"/><circle cx="781.1" cy="704.2" r="2.1" fill="#1F3F7A"/><circle cx="791.3" cy="704.2" r="2.1" fill="#1F3F7A"/><circle cx="801.5" cy="704.2" r="2.1" fill="#1F3F7A"/><circle cx="811.7" cy="704.2" r="2.1" fill="#1F3F7A"/><circle cx="821.9" cy="704.2" r="2.1" fill="#1F3F7A"/><circle cx="832.1" cy="704.2" r="2.1" fill="#1F3F7A"/><circle cx="765.8" cy="709.0" r="2.1" fill="#1F3F7A"/><circle cx="776.0" cy="709.0" r="2.1" fill="#1F3F7A"/><circle cx="786.2" cy="709.0" r="2.1" fill="#1F3F7A"/><circle cx="796.4" cy="709.0" r="2.1" fill="#1F3F7A"/><circle cx="806.6" cy="709.0" r="2.1" fill="#1F3F7A"/><circle cx="816.8" cy="709.0" r="2.1" fill="#1F3F7A"/><circle cx="827.0" cy="709.0" r="2.1" fill="#1F3F7A"/><circle cx="837.2" cy="709.0" r="2.1" fill="#1F3F7A"/><circle cx="760.7" cy="713.7" r="2.1" fill="#1F3F7A"/><circle cx="770.9" cy="713.7" r="2.1" fill="#1F3F7A"/><circle cx="781.1" cy="713.7" r="2.1" fill="#1F3F7A"/><circle cx="791.3" cy="713.7" r="2.1" fill="#1F3F7A"/><circle cx="801.5" cy="713.7" r="2.1" fill="#1F3F7A"/><circle cx="811.7" cy="713.7" r="2.1" fill="#1F3F7A"/><circle cx="821.9" cy="713.7" r="2.1" fill="#1F3F7A"/><circle cx="832.1" cy="713.7" r="2.1" fill="#1F3F7A"/><circle cx="765.8" cy="718.5" r="2.1" fill="#1F3F7A"/><circle cx="776.0" cy="718.5" r="2.1" fill="#1F3F7A"/><circle cx="786.2" cy="718.5" r="2.1" fill="#1F3F7A"/><circle cx="796.4" cy="718.5" r="2.1" fill="#1F3F7A"/><circle cx="806.6" cy="718.5" r="2.1" fill="#1F3F7A"/><circle cx="816.8" cy="718.5" r="2.1" fill="#1F3F7A"/><circle cx="827.0" cy="718.5" r="2.1" fill="#1F3F7A"/><circle cx="837.2" cy="718.5" r="2.1" fill="#1F3F7A"/><circle cx="760.7" cy="723.2" r="2.1" fill="#1F3F7A"/><circle cx="770.9" cy="723.2" r="2.1" fill="#1F3F7A"/><circle cx="781.1" cy="723.2" r="2.1" fill="#1F3F7A"/><circle cx="791.3" cy="723.2" r="2.1" fill="#1F3F7A"/><circle cx="801.5" cy="723.2" r="2.1" fill="#1F3F7A"/><circle cx="811.7" cy="723.2" r="2.1" fill="#1F3F7A"/><circle cx="821.9" cy="723.2" r="2.1" fill="#1F3F7A"/><circle cx="832.1" cy="723.2" r="2.1" fill="#1F3F7A"/><circle cx="765.8" cy="728.0" r="2.1" fill="#1F3F7A"/><circle cx="776.0" cy="728.0" r="2.1" fill="#1F3F7A"/><circle cx="786.2" cy="728.0" r="2.1" fill="#1F3F7A"/><circle cx="796.4" cy="728.0" r="2.1" fill="#1F3F7A"/><circle cx="806.6" cy="728.0" r="2.1" fill="#1F3F7A"/><circle cx="816.8" cy="728.0" r="2.1" fill="#1F3F7A"/><circle cx="827.0" cy="728.0" r="2.1" fill="#1F3F7A"/><circle cx="837.2" cy="728.0" r="2.1" fill="#1F3F7A"/><circle cx="760.7" cy="732.7" r="2.1" fill="#1F3F7A"/><circle cx="770.9" cy="732.7" r="2.1" fill="#1F3F7A"/><circle cx="781.1" cy="732.7" r="2.1" fill="#1F3F7A"/><circle cx="791.3" cy="732.7" r="2.1" fill="#1F3F7A"/><circle cx="801.5" cy="732.7" r="2.1" fill="#1F3F7A"/><circle cx="811.7" cy="732.7" r="2.1" fill="#1F3F7A"/><circle cx="821.9" cy="732.7" r="2.1" fill="#1F3F7A"/><circle cx="832.1" cy="732.7" r="2.1" fill="#1F3F7A"/><circle cx="765.8" cy="737.5" r="1.3" fill="#1F3F7A"/><circle cx="776.0" cy="737.5" r="1.3" fill="#1F3F7A"/><circle cx="786.2" cy="737.5" r="1.3" fill="#1F3F7A"/><circle cx="796.4" cy="737.5" r="1.3" fill="#1F3F7A"/><circle cx="806.6" cy="737.5" r="1.3" fill="#1F3F7A"/><circle cx="816.8" cy="737.5" r="1.3" fill="#1F3F7A"/><circle cx="827.0" cy="737.5" r="1.3" fill="#1F3F7A"/><circle cx="837.2" cy="737.5" r="1.3" fill="#1F3F7A"/><polygon points="788.5,694.5 792.5,694.5 796.0,711 792.0,711" fill="#1FA36E"/><polygon points="796,694.5 800,694.5 803.5,711 799.5,711" fill="#F07A22"/><polygon points="803.5,694.5 807.5,694.5 811.0,711 807.0,711" fill="#2A8ED0"/><polygon points="811,694.5 815,694.5 818.5,711 814.5,711" fill="#8E2A9C"/><rect x="784.5" y="713.7" width="43" height="16.1" fill="#E6E6EC" stroke="#7A7A8A" stroke-width="1"/><ellipse cx="806" cy="721.7" rx="4" ry="6" fill="#6A5A6A"/><circle cx="793" cy="721.7" r="2.5" fill="#9AA0B0"/><circle cx="819" cy="721.7" r="2.5" fill="#9AA0B0"/><rect x="770" y="700" width="51" height="2" fill="#D42F2F"/><path d="M760,721 C752,714 745,709 746,701.5 C747,696 754,694.5 759.5,699 C765,694.5 773,696 774,701.5 C775,709 768,714 760,721 Z" fill="#E23132"/><rect x="838" y="716" width="45" height="22" fill="#E0382A"/><rect x="861" y="694.5" width="22" height="21.5" fill="#D8323F"/><path d="M861,716 L838.5,716 A22.5,22.5 0 0 1 861,694.5 Z" fill="#F47A20"/><path d="M838,738 L838,716 L861,716 L861,738 Z" fill="#D9352E" opacity="0.6"/><line x1="861.5" y1="715.5" x2="861" y2="695" stroke="#231F20" stroke-width="1.2"/><line x1="861.5" y1="715.5" x2="868" y2="697" stroke="#231F20" stroke-width="1.2"/><line x1="861.5" y1="715.5" x2="875" y2="701" stroke="#231F20" stroke-width="1.2"/><line x1="861.5" y1="715.5" x2="880" y2="707" stroke="#231F20" stroke-width="1.2"/><line x1="861.5" y1="715.5" x2="883" y2="713" stroke="#231F20" stroke-width="1.2"/><line x1="861.5" y1="715.5" x2="883" y2="715.5" stroke="#231F20" stroke-width="1.2"/><circle cx="846" cy="698" r="1.1" fill="#222"/><circle cx="852" cy="697" r="1.1" fill="#222"/><circle cx="843" cy="703" r="1.1" fill="#222"/><circle cx="849" cy="703" r="1.1" fill="#222"/><circle cx="856" cy="701" r="1.1" fill="#222"/><circle cx="845" cy="709" r="1.1" fill="#222"/><circle cx="851" cy="708" r="1.1" fill="#222"/><circle cx="857" cy="707" r="1.1" fill="#222"/><circle cx="842" cy="713" r="1.1" fill="#222"/><circle cx="848" cy="713" r="1.1" fill="#222"/><circle cx="855" cy="713" r="1.1" fill="#222"/><circle cx="842" cy="720" r="1.2" fill="#2A4A8A" opacity="0.8"/><circle cx="847" cy="724" r="1.2" fill="#2A4A8A" opacity="0.8"/><circle cx="842" cy="730" r="1.2" fill="#2A4A8A" opacity="0.8"/><circle cx="852" cy="720" r="1.2" fill="#2A4A8A" opacity="0.8"/><circle cx="853" cy="728" r="1.2" fill="#2A4A8A" opacity="0.8"/><circle cx="858" cy="724" r="1.2" fill="#2A4A8A" opacity="0.8"/><circle cx="847" cy="735" r="1.2" fill="#2A4A8A" opacity="0.8"/><circle cx="858" cy="733" r="1.2" fill="#2A4A8A" opacity="0.8"/><circle cx="864" cy="729" r="1.2" fill="#2A4A8A" opacity="0.8"/><circle cx="870" cy="731" r="1.2" fill="#2A4A8A" opacity="0.8"/><circle cx="865" cy="736" r="1.2" fill="#2A4A8A" opacity="0.8"/><path d="M883,694.5 A43.5,43.5 0 0 1 926.5,738.0" fill="none" stroke="#231F20" stroke-width="3.6"/><path d="M883,701.5 A36.5,36.5 0 0 1 919.5,738.0" fill="none" stroke="#231F20" stroke-width="3.6"/><path d="M883,708.5 A29.5,29.5 0 0 1 912.5,738.0" fill="none" stroke="#231F20" stroke-width="3.6"/><path d="M883,715.5 A22.5,22.5 0 0 1 905.5,738.0" fill="none" stroke="#231F20" stroke-width="3.6"/><path d="M883,722.5 A15.5,15.5 0 0 1 898.5,738.0" fill="none" stroke="#231F20" stroke-width="3.6"/><path d="M883,729.5 A8.5,8.5 0 0 1 891.5,738.0" fill="none" stroke="#231F20" stroke-width="3.6"/><rect x="896" y="733.5" width="62" height="4.5" fill="#8898A8"/><radialGradient id="sg" cx="0.45" cy="0.35" r="0.7"><stop offset="0" stop-color="#F6F6F6"/><stop offset="1" stop-color="#B8B8BC"/></radialGradient><circle cx="926" cy="711.5" r="17.8" fill="url(#sg)"/><linearGradient id="rg" x1="0" x2="1" y1="0" y2="0"><stop offset="0" stop-color="#EEF2F5"/><stop offset="0.55" stop-color="#B9C6D1"/><stop offset="0.8" stop-color="#8C9EAE"/><stop offset="1" stop-color="#C9D3DC"/></linearGradient><rect x="986" y="694.5" width="132" height="31.5" fill="url(#rg)"/><rect x="966" y="719.5" width="182" height="7" fill="#E4E6E8" opacity="0.85"/><circle cx="1103" cy="711" r="13" fill="#7F93A6" opacity="0.7"/><rect x="956.0" y="720" width="0.8" height="6" fill="#8A8A8A"/><rect x="959.2" y="722.5" width="0.8" height="3.5" fill="#8A8A8A"/><rect x="962.4" y="722.5" width="0.8" height="3.5" fill="#8A8A8A"/><rect x="965.6" y="722.5" width="0.8" height="3.5" fill="#8A8A8A"/><rect x="968.8" y="722.5" width="0.8" height="3.5" fill="#8A8A8A"/><rect x="972.0" y="720" width="0.8" height="6" fill="#8A8A8A"/><rect x="975.2" y="722.5" width="0.8" height="3.5" fill="#8A8A8A"/><rect x="978.4" y="722.5" width="0.8" height="3.5" fill="#8A8A8A"/><rect x="981.6" y="722.5" width="0.8" height="3.5" fill="#8A8A8A"/><rect x="984.8" y="722.5" width="0.8" height="3.5" fill="#8A8A8A"/><rect x="988.0" y="720" width="0.8" height="6" fill="#8A8A8A"/><rect x="991.2" y="722.5" width="0.8" height="3.5" fill="#8A8A8A"/><rect x="994.4" y="722.5" width="0.8" height="3.5" fill="#8A8A8A"/><rect x="997.6" y="722.5" width="0.8" height="3.5" fill="#8A8A8A"/><rect x="1000.8" y="722.5" width="0.8" height="3.5" fill="#8A8A8A"/><rect x="1004.0" y="720" width="0.8" height="6" fill="#8A8A8A"/><rect x="1007.2" y="722.5" width="0.8" height="3.5" fill="#8A8A8A"/><rect x="1010.4" y="722.5" width="0.8" height="3.5" fill="#8A8A8A"/><rect x="1013.6" y="722.5" width="0.8" height="3.5" fill="#8A8A8A"/><rect x="1016.8" y="722.5" width="0.8" height="3.5" fill="#8A8A8A"/><rect x="1020.0" y="720" width="0.8" height="6" fill="#8A8A8A"/><rect x="1023.2" y="722.5" width="0.8" height="3.5" fill="#8A8A8A"/><rect x="1026.4" y="722.5" width="0.8" height="3.5" fill="#8A8A8A"/><rect x="1029.6" y="722.5" width="0.8" height="3.5" fill="#8A8A8A"/><rect x="1032.8" y="722.5" width="0.8" height="3.5" fill="#8A8A8A"/><rect x="1036.0" y="720" width="0.8" height="6" fill="#8A8A8A"/><rect x="1039.2" y="722.5" width="0.8" height="3.5" fill="#8A8A8A"/><rect x="1042.4" y="722.5" width="0.8" height="3.5" fill="#8A8A8A"/><rect x="1045.6" y="722.5" width="0.8" height="3.5" fill="#8A8A8A"/><rect x="1048.8" y="722.5" width="0.8" height="3.5" fill="#8A8A8A"/><rect x="1052.0" y="720" width="0.8" height="6" fill="#8A8A8A"/><rect x="1055.2" y="722.5" width="0.8" height="3.5" fill="#8A8A8A"/><rect x="1058.4" y="722.5" width="0.8" height="3.5" fill="#8A8A8A"/><rect x="1061.6" y="722.5" width="0.8" height="3.5" fill="#8A8A8A"/><rect x="1064.8" y="722.5" width="0.8" height="3.5" fill="#8A8A8A"/><rect x="1068.0" y="720" width="0.8" height="6" fill="#8A8A8A"/><rect x="1071.2" y="722.5" width="0.8" height="3.5" fill="#8A8A8A"/><rect x="1074.4" y="722.5" width="0.8" height="3.5" fill="#8A8A8A"/><rect x="1077.6" y="722.5" width="0.8" height="3.5" fill="#8A8A8A"/><rect x="1080.8" y="722.5" width="0.8" height="3.5" fill="#8A8A8A"/><rect x="1084.0" y="720" width="0.8" height="6" fill="#8A8A8A"/><rect x="1087.2" y="722.5" width="0.8" height="3.5" fill="#8A8A8A"/><rect x="1090.4" y="722.5" width="0.8" height="3.5" fill="#8A8A8A"/><rect x="1093.6" y="722.5" width="0.8" height="3.5" fill="#8A8A8A"/><rect x="1096.8" y="722.5" width="0.8" height="3.5" fill="#8A8A8A"/><rect x="1100.0" y="720" width="0.8" height="6" fill="#8A8A8A"/><rect x="1103.2" y="722.5" width="0.8" height="3.5" fill="#8A8A8A"/><rect x="1106.4" y="722.5" width="0.8" height="3.5" fill="#8A8A8A"/><rect x="1109.6" y="722.5" width="0.8" height="3.5" fill="#8A8A8A"/><rect x="1112.8" y="722.5" width="0.8" height="3.5" fill="#8A8A8A"/><rect x="1116.0" y="720" width="0.8" height="6" fill="#8A8A8A"/><rect x="1119.2" y="722.5" width="0.8" height="3.5" fill="#8A8A8A"/><rect x="1122.4" y="722.5" width="0.8" height="3.5" fill="#8A8A8A"/><rect x="1125.6" y="722.5" width="0.8" height="3.5" fill="#8A8A8A"/><rect x="1128.8" y="722.5" width="0.8" height="3.5" fill="#8A8A8A"/><rect x="1132.0" y="720" width="0.8" height="6" fill="#8A8A8A"/><rect x="1135.2" y="722.5" width="0.8" height="3.5" fill="#8A8A8A"/><rect x="1138.4" y="722.5" width="0.8" height="3.5" fill="#8A8A8A"/><rect x="1141.6" y="722.5" width="0.8" height="3.5" fill="#8A8A8A"/><rect x="1144.8" y="722.5" width="0.8" height="3.5" fill="#8A8A8A"/><rect x="955" y="712" width="2" height="3.4" fill="#9A5AA8" opacity="0.8"/><rect x="971" y="712" width="2" height="3.4" fill="#9A5AA8" opacity="0.8"/><rect x="986" y="712" width="2" height="3.4" fill="#9A5AA8" opacity="0.8"/><rect x="1002" y="712" width="2" height="3.4" fill="#9A5AA8" opacity="0.8"/><rect x="1018" y="712" width="2" height="3.4" fill="#9A5AA8" opacity="0.8"/><rect x="1034" y="712" width="2" height="3.4" fill="#9A5AA8" opacity="0.8"/><rect x="1049" y="712" width="2" height="3.4" fill="#9A5AA8" opacity="0.8"/><rect x="1064" y="712" width="2" height="3.4" fill="#9A5AA8" opacity="0.8"/><rect x="1080" y="712" width="2" height="3.4" fill="#9A5AA8" opacity="0.8"/><rect x="1096" y="712" width="2" height="3.4" fill="#9A5AA8" opacity="0.8"/><rect x="1111" y="712" width="2" height="3.4" fill="#9A5AA8" opacity="0.8"/><rect x="1127" y="712" width="2" height="3.4" fill="#9A5AA8" opacity="0.8"/><rect x="936" y="727.2" width="226.5" height="1.7" fill="#231F20"/><rect x="936" y="730.4" width="226.5" height="1.7" fill="#231F20"/><rect x="936" y="733.6" width="226.5" height="1.7" fill="#231F20"/><rect x="936" y="736.6" width="226.5" height="1.7" fill="#231F20"/><polygon points="946.4,694.5 951.4,694.5 946.5,708 940,708" fill="#A0199A"/><polygon points="956.5,694.5 961.5,694.5 946.8,733 940.3,733" fill="#A0199A"/><polygon points="968,694.5 973,694.5 960.8,737.5 954.3,737.5" fill="#A0199A"/><path d="M1037,699 Q1036,695 1041,695.5 Q1044,694.5 1047,695.5 L1056,695.5 Q1059,694.5 1062,695.5 Q1066,695 1065,699 Q1067,703 1065,709 Q1064,716 1066,721 L1067,726.5 L1035,726.5 L1036,721 Q1038,716 1037,709 Q1035,703 1037,699 Z" fill="#fff" stroke="#333" stroke-width="0.9"/><ellipse cx="1051" cy="710" rx="6.2" ry="5" fill="#fff" stroke="#333" stroke-width="0.9"/><circle cx="1048.6" cy="710" r="1.2" fill="none" stroke="#333" stroke-width="0.8"/><circle cx="1053.4" cy="710" r="1.2" fill="none" stroke="#333" stroke-width="0.8"/><circle cx="1045.4" cy="701.8" r="1.1" fill="#333"/><circle cx="1056.6" cy="701.8" r="1.1" fill="#333"/><path d="M1043,726.5 L1046,722 L1056,722 L1059,726.5 Z" fill="#D8D8D8" stroke="#333" stroke-width="0.8"/><circle cx="1132" cy="708" r="14" fill="#ffffff"/><path d="M1132,708 L1118,708 A14,14 0 0 1 1132,694 Z" fill="#1D5A8E"/><path d="M1132,708 L1118,708 A14,14 0 0 0 1132,722 Z" fill="#F07022"/><path d="M1132,708 L1146,708 A14,14 0 0 1 1132,722 Z" fill="#DADAE0"/><rect x="1133" y="710" width="10" height="1" fill="#777"/><rect x="1133" y="713" width="11" height="1" fill="#777"/><rect x="1133" y="716" width="9" height="1" fill="#777"/><path d="M1140,694.5 L1146.5,694.5 L1146.5,708 Q1146,699 1140,694.5 Z" fill="#8E2A9C"/><rect x="1149.6" y="694.6" width="1.4" height="1.8" fill="#333"/><rect x="1149.6" y="699.7" width="1.4" height="1.8" fill="#333"/><rect x="1149.6" y="704.8" width="1.4" height="1.8" fill="#333"/><rect x="1149.6" y="709.9" width="1.4" height="1.8" fill="#333"/><rect x="1149.6" y="715.0" width="1.4" height="1.8" fill="#333"/><rect x="1149.6" y="720.1" width="1.4" height="1.8" fill="#333"/><rect x="1154.7" y="694.6" width="1.4" height="1.8" fill="#333"/><rect x="1154.7" y="699.7" width="1.4" height="1.8" fill="#333"/><rect x="1154.7" y="704.8" width="1.4" height="1.8" fill="#333"/><rect x="1154.7" y="709.9" width="1.4" height="1.8" fill="#333"/><rect x="1154.7" y="715.0" width="1.4" height="1.8" fill="#333"/><rect x="1154.7" y="720.1" width="1.4" height="1.8" fill="#333"/><rect x="1160.0" y="694.6" width="1.4" height="1.8" fill="#333"/><rect x="1160.0" y="699.7" width="1.4" height="1.8" fill="#333"/><rect x="1160.0" y="704.8" width="1.4" height="1.8" fill="#333"/><rect x="1160.0" y="709.9" width="1.4" height="1.8" fill="#333"/><rect x="1160.0" y="715.0" width="1.4" height="1.8" fill="#333"/><rect x="1160.0" y="720.1" width="1.4" height="1.8" fill="#333"/><rect x="1165.3" y="694.6" width="1.4" height="1.8" fill="#333"/><rect x="1165.3" y="699.7" width="1.4" height="1.8" fill="#333"/><rect x="1165.3" y="704.8" width="1.4" height="1.8" fill="#333"/><rect x="1165.3" y="709.9" width="1.4" height="1.8" fill="#333"/><rect x="1165.3" y="715.0" width="1.4" height="1.8" fill="#333"/><rect x="1165.3" y="720.1" width="1.4" height="1.8" fill="#333"/><rect x="1165.3" y="725.2" width="1.4" height="1.8" fill="#333"/><rect x="1165.3" y="730.3" width="1.4" height="1.8" fill="#333"/><rect x="1165.3" y="735.4" width="1.4" height="1.8" fill="#333"/><rect x="1170.6" y="694.6" width="1.4" height="1.8" fill="#333"/><rect x="1170.6" y="699.7" width="1.4" height="1.8" fill="#333"/><rect x="1170.6" y="704.8" width="1.4" height="1.8" fill="#333"/><rect x="1170.6" y="709.9" width="1.4" height="1.8" fill="#333"/><rect x="1170.6" y="715.0" width="1.4" height="1.8" fill="#333"/><rect x="1170.6" y="720.1" width="1.4" height="1.8" fill="#333"/><rect x="1170.6" y="725.2" width="1.4" height="1.8" fill="#333"/><rect x="1170.6" y="730.3" width="1.4" height="1.8" fill="#333"/><rect x="1170.6" y="735.4" width="1.4" height="1.8" fill="#333"/><rect x="1175.8" y="694.6" width="1.4" height="1.8" fill="#333"/><rect x="1175.8" y="699.7" width="1.4" height="1.8" fill="#333"/><rect x="1175.8" y="704.8" width="1.4" height="1.8" fill="#333"/><rect x="1175.8" y="709.9" width="1.4" height="1.8" fill="#333"/><rect x="1175.8" y="715.0" width="1.4" height="1.8" fill="#333"/><rect x="1175.8" y="720.1" width="1.4" height="1.8" fill="#333"/><rect x="1175.8" y="725.2" width="1.4" height="1.8" fill="#333"/><rect x="1175.8" y="730.3" width="1.4" height="1.8" fill="#333"/><rect x="1175.8" y="735.4" width="1.4" height="1.8" fill="#333"/><rect x="1181.1" y="694.6" width="1.4" height="1.8" fill="#333"/><rect x="1181.1" y="699.7" width="1.4" height="1.8" fill="#333"/><rect x="1181.1" y="704.8" width="1.4" height="1.8" fill="#333"/><rect x="1181.1" y="709.9" width="1.4" height="1.8" fill="#333"/><rect x="1181.1" y="715.0" width="1.4" height="1.8" fill="#333"/><rect x="1181.1" y="720.1" width="1.4" height="1.8" fill="#333"/><rect x="1181.1" y="725.2" width="1.4" height="1.8" fill="#333"/><rect x="1181.1" y="730.3" width="1.4" height="1.8" fill="#333"/><rect x="1181.1" y="735.4" width="1.4" height="1.8" fill="#333"/><rect x="1186.3" y="694.6" width="1.4" height="1.8" fill="#333"/><rect x="1186.3" y="699.7" width="1.4" height="1.8" fill="#333"/><rect x="1186.3" y="704.8" width="1.4" height="1.8" fill="#333"/><rect x="1186.3" y="709.9" width="1.4" height="1.8" fill="#333"/><rect x="1186.3" y="715.0" width="1.4" height="1.8" fill="#333"/><rect x="1186.3" y="720.1" width="1.4" height="1.8" fill="#333"/><rect x="1186.3" y="725.2" width="1.4" height="1.8" fill="#333"/><rect x="1186.3" y="730.3" width="1.4" height="1.8" fill="#333"/><rect x="1186.3" y="735.4" width="1.4" height="1.8" fill="#333"/><path d="M1204,715.5 L1182,715.5 A22,22 0 0 1 1204,693.5 Z" fill="#F47420"/><path d="M1204,715.5 L1226,715.5 A22,22 0 0 1 1204,737.5 Z" fill="#F47420"/><path d="M1226,726 L1226,738 L1214,738 A22,22 0 0 0 1226,726 Z" fill="#8E2A9C"/><rect x="1203.5" y="694.5" width="1.5" height="21.5" fill="#231F20"/><rect x="1203.5" y="714.8" width="22.5" height="1.6" fill="#231F20"/><line x1="1205" y1="714.5" x2="1211" y2="695.5" stroke="#231F20" stroke-width="1.3"/><line x1="1205" y1="714.5" x2="1218" y2="699" stroke="#231F20" stroke-width="1.3"/><line x1="1205" y1="714.5" x2="1223" y2="705" stroke="#231F20" stroke-width="1.3"/><line x1="1205" y1="714.5" x2="1225" y2="711" stroke="#231F20" stroke-width="1.3"/><path d="M1198,716 A6,6 0 0 0 1204,722" fill="none" stroke="#444" stroke-width="0.8" stroke-dasharray="0.8 1.2"/><path d="M1195,716 A9,9 0 0 0 1204,725" fill="none" stroke="#444" stroke-width="0.8" stroke-dasharray="0.8 1.2"/><path d="M1192,716 A12,12 0 0 0 1204,728" fill="none" stroke="#444" stroke-width="0.8" stroke-dasharray="0.8 1.2"/><path d="M1189,716 A15,15 0 0 0 1204,731" fill="none" stroke="#444" stroke-width="0.8" stroke-dasharray="0.8 1.2"/><path d="M1186,716 A18,18 0 0 0 1204,734" fill="none" stroke="#444" stroke-width="0.8" stroke-dasharray="0.8 1.2"/><path d="M1183,716 A21,21 0 0 0 1204,737" fill="none" stroke="#444" stroke-width="0.8" stroke-dasharray="0.8 1.2"/><path d="M1235,738 L1234,726 Q1231,716 1232,704 Q1232,700 1234,702 L1236,711 L1236.5,699 Q1237.5,696 1239,699 L1240,709 L1241.5,696.5 Q1243,694.5 1244.5,697 L1244.5,709 L1247,699 Q1248.5,697 1249.5,700 L1248.5,713 L1253,711 Q1257,710 1256,713 L1250,722 L1248,738 Z" fill="#62B2E4"/><circle cx="1259.0" cy="695.5" r="1.3" fill="#7890AE" opacity="0.85"/><circle cx="1264.4" cy="695.5" r="1.3" fill="#7890AE" opacity="0.85"/><circle cx="1269.8" cy="695.5" r="1.3" fill="#7890AE" opacity="0.85"/><circle cx="1275.2" cy="695.5" r="1.3" fill="#7890AE" opacity="0.85"/><circle cx="1280.6" cy="695.5" r="1.3" fill="#7890AE" opacity="0.85"/><circle cx="1286.0" cy="695.5" r="1.3" fill="#7890AE" opacity="0.85"/><circle cx="1291.4" cy="695.5" r="1.3" fill="#7890AE" opacity="0.85"/><circle cx="1296.8" cy="695.5" r="1.3" fill="#7890AE" opacity="0.85"/><circle cx="1302.2" cy="695.5" r="1.0" fill="#7890AE" opacity="0.85"/><circle cx="1307.6" cy="695.5" r="1.0" fill="#7890AE" opacity="0.85"/><circle cx="1313.0" cy="695.5" r="1.0" fill="#7890AE" opacity="0.85"/><circle cx="1318.4" cy="695.5" r="1.0" fill="#7890AE" opacity="0.85"/><circle cx="1323.8" cy="695.5" r="1.0" fill="#7890AE" opacity="0.85"/><circle cx="1261.7" cy="700.6" r="1.3" fill="#7890AE" opacity="0.85"/><circle cx="1267.1" cy="700.6" r="1.3" fill="#7890AE" opacity="0.85"/><circle cx="1272.5" cy="700.6" r="1.3" fill="#7890AE" opacity="0.85"/><circle cx="1277.9" cy="700.6" r="1.3" fill="#7890AE" opacity="0.85"/><circle cx="1283.3" cy="700.6" r="1.3" fill="#7890AE" opacity="0.85"/><circle cx="1288.7" cy="700.6" r="1.3" fill="#7890AE" opacity="0.85"/><circle cx="1294.1" cy="700.6" r="1.3" fill="#7890AE" opacity="0.85"/><circle cx="1299.5" cy="700.6" r="1.3" fill="#7890AE" opacity="0.85"/><circle cx="1304.9" cy="700.6" r="1.0" fill="#7890AE" opacity="0.85"/><circle cx="1310.3" cy="700.6" r="1.0" fill="#7890AE" opacity="0.85"/><circle cx="1315.7" cy="700.6" r="1.0" fill="#7890AE" opacity="0.85"/><circle cx="1321.1" cy="700.6" r="1.0" fill="#7890AE" opacity="0.85"/><circle cx="1259.0" cy="705.7" r="1.3" fill="#7890AE" opacity="0.85"/><circle cx="1264.4" cy="705.7" r="1.3" fill="#7890AE" opacity="0.85"/><circle cx="1269.8" cy="705.7" r="1.3" fill="#7890AE" opacity="0.85"/><circle cx="1275.2" cy="705.7" r="1.3" fill="#7890AE" opacity="0.85"/><circle cx="1280.6" cy="705.7" r="1.3" fill="#7890AE" opacity="0.85"/><circle cx="1286.0" cy="705.7" r="1.3" fill="#7890AE" opacity="0.85"/><circle cx="1291.4" cy="705.7" r="1.3" fill="#7890AE" opacity="0.85"/><circle cx="1296.8" cy="705.7" r="1.3" fill="#7890AE" opacity="0.85"/><circle cx="1302.2" cy="705.7" r="1.0" fill="#7890AE" opacity="0.85"/><circle cx="1307.6" cy="705.7" r="1.0" fill="#7890AE" opacity="0.85"/><circle cx="1313.0" cy="705.7" r="1.0" fill="#7890AE" opacity="0.85"/><circle cx="1318.4" cy="705.7" r="1.0" fill="#7890AE" opacity="0.85"/><circle cx="1323.8" cy="705.7" r="1.0" fill="#7890AE" opacity="0.85"/><circle cx="1261.7" cy="710.8" r="1.3" fill="#7890AE" opacity="0.85"/><circle cx="1267.1" cy="710.8" r="1.3" fill="#7890AE" opacity="0.85"/><circle cx="1272.5" cy="710.8" r="1.3" fill="#7890AE" opacity="0.85"/><circle cx="1277.9" cy="710.8" r="1.3" fill="#7890AE" opacity="0.85"/><circle cx="1283.3" cy="710.8" r="1.3" fill="#7890AE" opacity="0.85"/><circle cx="1288.7" cy="710.8" r="1.3" fill="#7890AE" opacity="0.85"/><circle cx="1294.1" cy="710.8" r="1.3" fill="#7890AE" opacity="0.85"/><circle cx="1299.5" cy="710.8" r="1.3" fill="#7890AE" opacity="0.85"/><circle cx="1304.9" cy="710.8" r="1.0" fill="#7890AE" opacity="0.85"/><circle cx="1310.3" cy="710.8" r="1.0" fill="#7890AE" opacity="0.85"/><circle cx="1315.7" cy="710.8" r="1.0" fill="#7890AE" opacity="0.85"/><circle cx="1321.1" cy="710.8" r="1.0" fill="#7890AE" opacity="0.85"/><circle cx="1259.0" cy="715.9" r="1.3" fill="#7890AE" opacity="0.85"/><circle cx="1264.4" cy="715.9" r="1.3" fill="#7890AE" opacity="0.85"/><circle cx="1269.8" cy="715.9" r="1.3" fill="#7890AE" opacity="0.85"/><circle cx="1275.2" cy="715.9" r="1.3" fill="#7890AE" opacity="0.85"/><circle cx="1280.6" cy="715.9" r="1.3" fill="#7890AE" opacity="0.85"/><circle cx="1286.0" cy="715.9" r="1.3" fill="#7890AE" opacity="0.85"/><circle cx="1291.4" cy="715.9" r="1.3" fill="#7890AE" opacity="0.85"/><circle cx="1296.8" cy="715.9" r="1.3" fill="#7890AE" opacity="0.85"/><circle cx="1302.2" cy="715.9" r="1.0" fill="#7890AE" opacity="0.85"/><circle cx="1307.6" cy="715.9" r="1.0" fill="#7890AE" opacity="0.85"/><circle cx="1313.0" cy="715.9" r="1.0" fill="#7890AE" opacity="0.85"/><circle cx="1318.4" cy="715.9" r="1.0" fill="#7890AE" opacity="0.85"/><circle cx="1323.8" cy="715.9" r="1.0" fill="#7890AE" opacity="0.85"/><circle cx="1261.7" cy="721.0" r="1.3" fill="#7890AE" opacity="0.85"/><circle cx="1267.1" cy="721.0" r="1.3" fill="#7890AE" opacity="0.85"/><circle cx="1272.5" cy="721.0" r="1.3" fill="#7890AE" opacity="0.85"/><circle cx="1277.9" cy="721.0" r="1.3" fill="#7890AE" opacity="0.85"/><circle cx="1283.3" cy="721.0" r="1.3" fill="#7890AE" opacity="0.85"/><circle cx="1288.7" cy="721.0" r="1.3" fill="#7890AE" opacity="0.85"/><circle cx="1294.1" cy="721.0" r="1.3" fill="#7890AE" opacity="0.85"/><circle cx="1299.5" cy="721.0" r="1.3" fill="#7890AE" opacity="0.85"/><circle cx="1304.9" cy="721.0" r="1.0" fill="#7890AE" opacity="0.85"/><circle cx="1310.3" cy="721.0" r="1.0" fill="#7890AE" opacity="0.85"/><circle cx="1315.7" cy="721.0" r="1.0" fill="#7890AE" opacity="0.85"/><circle cx="1321.1" cy="721.0" r="1.0" fill="#7890AE" opacity="0.85"/><circle cx="1259.0" cy="726.1" r="1.3" fill="#7890AE" opacity="0.85"/><circle cx="1264.4" cy="726.1" r="1.3" fill="#7890AE" opacity="0.85"/><circle cx="1269.8" cy="726.1" r="1.3" fill="#7890AE" opacity="0.85"/><circle cx="1275.2" cy="726.1" r="1.3" fill="#7890AE" opacity="0.85"/><circle cx="1280.6" cy="726.1" r="1.3" fill="#7890AE" opacity="0.85"/><circle cx="1286.0" cy="726.1" r="1.3" fill="#7890AE" opacity="0.85"/><circle cx="1291.4" cy="726.1" r="1.3" fill="#7890AE" opacity="0.85"/><circle cx="1296.8" cy="726.1" r="1.3" fill="#7890AE" opacity="0.85"/><circle cx="1302.2" cy="726.1" r="1.0" fill="#7890AE" opacity="0.85"/><circle cx="1307.6" cy="726.1" r="1.0" fill="#7890AE" opacity="0.85"/><circle cx="1313.0" cy="726.1" r="1.0" fill="#7890AE" opacity="0.85"/><circle cx="1318.4" cy="726.1" r="1.0" fill="#7890AE" opacity="0.85"/><circle cx="1323.8" cy="726.1" r="1.0" fill="#7890AE" opacity="0.85"/><circle cx="1261.7" cy="731.2" r="1.3" fill="#7890AE" opacity="0.85"/><circle cx="1267.1" cy="731.2" r="1.3" fill="#7890AE" opacity="0.85"/><circle cx="1272.5" cy="731.2" r="1.3" fill="#7890AE" opacity="0.85"/><circle cx="1277.9" cy="731.2" r="1.3" fill="#7890AE" opacity="0.85"/><circle cx="1283.3" cy="731.2" r="1.3" fill="#7890AE" opacity="0.85"/><circle cx="1288.7" cy="731.2" r="1.3" fill="#7890AE" opacity="0.85"/><circle cx="1294.1" cy="731.2" r="1.3" fill="#7890AE" opacity="0.85"/><circle cx="1299.5" cy="731.2" r="1.3" fill="#7890AE" opacity="0.85"/><circle cx="1304.9" cy="731.2" r="1.0" fill="#7890AE" opacity="0.85"/><circle cx="1310.3" cy="731.2" r="1.0" fill="#7890AE" opacity="0.85"/><circle cx="1315.7" cy="731.2" r="1.0" fill="#7890AE" opacity="0.85"/><circle cx="1321.1" cy="731.2" r="1.0" fill="#7890AE" opacity="0.85"/><circle cx="1259.0" cy="736.3" r="1.3" fill="#7890AE" opacity="0.85"/><circle cx="1264.4" cy="736.3" r="1.3" fill="#7890AE" opacity="0.85"/><circle cx="1269.8" cy="736.3" r="1.3" fill="#7890AE" opacity="0.85"/><circle cx="1275.2" cy="736.3" r="1.3" fill="#7890AE" opacity="0.85"/><circle cx="1280.6" cy="736.3" r="1.3" fill="#7890AE" opacity="0.85"/><circle cx="1286.0" cy="736.3" r="1.3" fill="#7890AE" opacity="0.85"/><circle cx="1291.4" cy="736.3" r="1.3" fill="#7890AE" opacity="0.85"/><circle cx="1296.8" cy="736.3" r="1.3" fill="#7890AE" opacity="0.85"/><circle cx="1302.2" cy="736.3" r="1.0" fill="#7890AE" opacity="0.85"/><circle cx="1307.6" cy="736.3" r="1.0" fill="#7890AE" opacity="0.85"/><circle cx="1313.0" cy="736.3" r="1.0" fill="#7890AE" opacity="0.85"/><circle cx="1318.4" cy="736.3" r="1.0" fill="#7890AE" opacity="0.85"/><circle cx="1323.8" cy="736.3" r="1.0" fill="#7890AE" opacity="0.85"/><rect x="1306" y="694.5" width="30" height="43.5" fill="#fff" opacity="0.5"/><rect x="1283.6" y="700" width="7.6" height="5.8" rx="1" fill="#707070"/><path d="M1284,705.8 L1291,705.8 Q1291,709 1294,711.5 Q1297.5,715 1297,719.5 Q1296,727.5 1287.5,727.8 Q1279,727.5 1278.2,719.5 Q1277.7,715 1281,711.5 Q1284,709 1284,705.8 Z" fill="#fff" stroke="#222" stroke-width="1.2"/><line x1="1272.5" y1="718.5" x2="1276.8" y2="718.5" stroke="#222" stroke-width="1.2"/><line x1="1299" y1="718.5" x2="1303.5" y2="718.5" stroke="#222" stroke-width="1.2"/><line x1="1274.3" y1="711" x2="1277.8" y2="713.2" stroke="#222" stroke-width="1.2"/><line x1="1301.3" y1="711" x2="1297.8" y2="713.2" stroke="#222" stroke-width="1.2"/><line x1="1274.8" y1="726" x2="1278.3" y2="723.8" stroke="#222" stroke-width="1.2"/><line x1="1300.8" y1="726" x2="1297.3" y2="723.8" stroke="#222" stroke-width="1.2"/><line x1="1281" y1="731.5" x2="1282.6" y2="728.4" stroke="#222" stroke-width="1.2"/><line x1="1288" y1="732.5" x2="1288" y2="729.3" stroke="#222" stroke-width="1.2"/><line x1="1294.8" y1="731.5" x2="1293.2" y2="728.4" stroke="#222" stroke-width="1.2"/><circle cx="1327.5" cy="696.0" r="1.5" fill="#EE7A2E"/><circle cx="1327.5" cy="702.6" r="1.5" fill="#EE7A2E"/><circle cx="1327.5" cy="709.2" r="1.5" fill="#EE7A2E"/><circle cx="1327.5" cy="715.8" r="1.5" fill="#EE7A2E"/><circle cx="1327.5" cy="722.4" r="1.5" fill="#EE7A2E"/><circle cx="1327.5" cy="729.0" r="1.5" fill="#EE7A2E"/><circle cx="1327.5" cy="735.6" r="1.5" fill="#EE7A2E"/><circle cx="1334.2" cy="696.0" r="1.5" fill="#EE7A2E"/><circle cx="1334.2" cy="702.6" r="1.5" fill="#EE7A2E"/><circle cx="1334.2" cy="709.2" r="1.5" fill="#EE7A2E"/><circle cx="1334.2" cy="715.8" r="1.5" fill="#EE7A2E"/><circle cx="1334.2" cy="722.4" r="1.5" fill="#EE7A2E"/><circle cx="1334.2" cy="729.0" r="1.5" fill="#EE7A2E"/><circle cx="1334.2" cy="735.6" r="1.5" fill="#EE7A2E"/><circle cx="1341" cy="696.0" r="1.5" fill="#EE7A2E"/><circle cx="1341" cy="702.6" r="1.5" fill="#EE7A2E"/><circle cx="1341" cy="709.2" r="1.5" fill="#EE7A2E"/><circle cx="1341" cy="715.8" r="1.5" fill="#EE7A2E"/><circle cx="1341" cy="722.4" r="1.5" fill="#EE7A2E"/><circle cx="1341" cy="729.0" r="1.5" fill="#EE7A2E"/><circle cx="1341" cy="735.6" r="1.5" fill="#EE7A2E"/><circle cx="1366" cy="716" r="22.5" fill="#A21FA3"/><rect x="1348" y="709" width="2" height="1" fill="#D78AD8"/><rect x="1348" y="716" width="2" height="1" fill="#D78AD8"/><rect x="1348" y="723" width="2" height="1" fill="#D78AD8"/></g></svg>
<svg class="a" style="left:1130px;top:640px" width="230" height="50" viewBox="1130 640 230 50">
<path d="M1139.6,652 L1146.8,647 L1149.8,647 L1149.8,674 L1141.2,674 L1141.2,672.8 L1144.2,672 L1144.2,651 Z" fill="#5A9A37"/>
<path d="M1149.6,646.6 L1168,646.6 L1168,653.5 L1166.8,653.5 Q1165.5,649.6 1161,649.4 L1155.6,649.4 L1155.6,659 L1162,659 Q1163.8,659 1164,657 L1165.2,657 L1165.2,664 L1164,664 Q1163.8,662 1162,662 L1155.6,662 L1155.6,672.2 L1159.4,672.8 L1159.4,674 L1148.8,674 L1148.8,672.8 L1149.6,672.2 Z" fill="#124E87"/>
<g font-family="Liberation Serif" font-weight="bold" fill="#124E87">
<text x="1168.5" y="673.9" font-size="27.5" textLength="52.5" lengthAdjust="spacingAndGlyphs">IRST</text>
<text x="1226.6" y="673.9" font-size="33.4" textLength="8.6" lengthAdjust="spacingAndGlyphs">I</text>
<text x="1235.9" y="673.9" font-size="26.4" textLength="110.5" lengthAdjust="spacingAndGlyphs">NTERNET</text>
</g>
<text x="1236.8" y="681.5" font-family="Liberation Sans" font-weight="bold" font-size="7" fill="#819C52" textLength="106" lengthAdjust="spacing">BANCORP</text>
</svg>
<div class="a" style="left:1309.6px;top:704.2px;font-size:21px;line-height:21px;font-weight:bold;color:#111;letter-spacing:0.7px">15</div>
</body></html>
